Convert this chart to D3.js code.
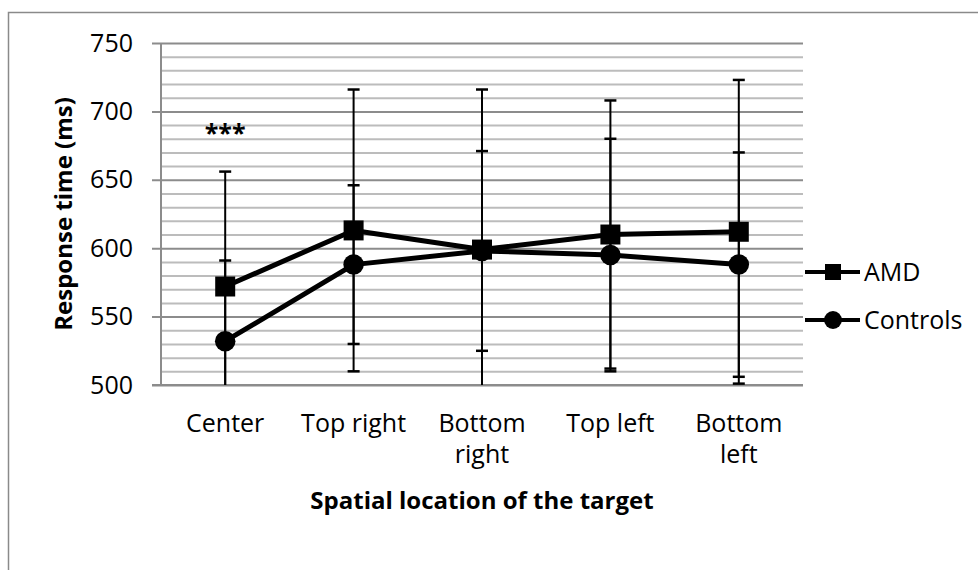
<!DOCTYPE html>
<html>
<head>
<meta charset="utf-8">
<script src="https://cdn.jsdelivr.net/npm/d3@7"></script>
<style>
  html, body { margin: 0; padding: 0; background: #fff; }
  svg { display: block; font-family: "Open Sans", "Noto Sans", sans-serif; }
</style>
</head>
<body>
<svg id="chart" width="978" height="570"></svg>
<script>
// Mean response times (ms) and error bar half-widths per target location
const categories = ["Center", "Top right", "Bottom right", "Top left", "Bottom left"];
const categoryLines = [["Center"], ["Top right"], ["Bottom", "right"], ["Top left"], ["Bottom", "left"]];
const amdMeans = [572, 613, 599, 610, 612];
const amdErrors = [84, 103, 117, 98, 111];
const controlsMeans = [532, 588, 598, 595, 588];
const controlsErrors = [59, 58, 73, 85, 82];
const majorTicks = [500, 550, 600, 650, 700, 750];
const minorTicks = [510, 520, 530, 540, 560, 570, 580, 590, 610, 620, 630, 640,
                    660, 670, 680, 690, 710, 720, 730, 740];
const seriesNames = ["AMD", "Controls"];

const svg = d3.select("#chart");

// outer chart frame
svg.append("rect")
  .attr("x", 8.5).attr("y", 12.5)
  .attr("width", 1100).attr("height", 700)
  .attr("fill", "none").attr("stroke", "#8a8a8a").attr("stroke-width", 1.5);

const plot = { left: 161, right: 803, top: 43, bottom: 385 };
const plotW = plot.right - plot.left;

const x = d3.scaleBand().domain(categories).range([plot.left, plot.right]).padding(0);
const cx = c => x(c) + x.bandwidth() / 2;
const y = d3.scaleLinear().domain([500, 750]).range([plot.bottom, plot.top]);

// minor gridlines
const minorAxis = svg.append("g")
  .attr("transform", `translate(${plot.left},0)`)
  .call(d3.axisLeft(y).tickValues(minorTicks).tickSize(-plotW).tickFormat(""));
minorAxis.select(".domain").remove();
minorAxis.selectAll(".tick line").attr("stroke", "#bcbcbc").attr("stroke-width", 2);

// major gridlines with outer tick marks
const majorAxis = svg.append("g")
  .attr("transform", `translate(${plot.right},0)`)
  .call(d3.axisRight(y).tickValues(majorTicks).tickSize(-(plot.right - plot.left + 9)).tickFormat(""));
majorAxis.select(".domain").remove();
majorAxis.selectAll(".tick line").attr("stroke", "#8c8c8c").attr("stroke-width", 2);

// y axis labels
const yAxis = svg.append("g")
  .attr("transform", `translate(${plot.left},0)`)
  .call(d3.axisLeft(y).tickValues(majorTicks).tickSize(9).tickPadding(19).tickFormat(d3.format("d")));
yAxis.select(".domain").remove();
yAxis.selectAll(".tick line").remove();
yAxis.selectAll(".tick text")
  .attr("font-size", 25).attr("fill", "#000")
  .attr("font-family", "'Open Sans', sans-serif");

// axis lines
svg.append("line")
  .attr("x1", plot.left).attr("x2", plot.left)
  .attr("y1", plot.top).attr("y2", plot.bottom)
  .attr("stroke", "#8c8c8c").attr("stroke-width", 2);
svg.append("line")
  .attr("x1", plot.left - 9).attr("x2", plot.right)
  .attr("y1", plot.bottom).attr("y2", plot.bottom)
  .attr("stroke", "#8c8c8c").attr("stroke-width", 2);

// x category labels
const xl = svg.append("g");
categories.forEach((c, i) => {
  const t = xl.append("text")
    .attr("x", cx(c)).attr("y", 432)
    .attr("text-anchor", "middle")
    .attr("font-size", 25).attr("fill", "#000");
  categoryLines[i].forEach((ln, j) => {
    t.append("tspan").attr("x", cx(c)).attr("dy", j === 0 ? 0 : 31).text(ln);
  });
});

// axis titles
svg.append("text")
  .attr("x", (plot.left + plot.right) / 2).attr("y", 509)
  .attr("text-anchor", "middle")
  .attr("font-size", 24).attr("font-weight", "bold").attr("fill", "#000")
  .text("Spatial location of the target");
svg.append("text")
  .attr("transform", `translate(72,${(plot.top + plot.bottom) / 2}) rotate(-90)`)
  .attr("text-anchor", "middle")
  .attr("font-size", 24).attr("font-weight", "bold").attr("fill", "#000")
  .text("Response time (ms)");

// clip marks to the plot area
svg.append("clipPath").attr("id", "plotClip")
  .append("rect")
  .attr("x", plot.left - 20).attr("y", plot.top - 20)
  .attr("width", plotW + 40).attr("height", plot.bottom - plot.top + 20);

const marks = svg.append("g").attr("clip-path", "url(#plotClip)");

// error bars for both groups
function errorBars(means, errs) {
  const g = marks.append("g").attr("stroke", "#000").attr("stroke-width", 2);
  categories.forEach((c, i) => {
    const hi = means[i] + errs[i], lo = means[i] - errs[i];
    const top = y(Math.min(hi, 750)), bot = y(Math.max(lo, 500));
    g.append("line").attr("x1", cx(c)).attr("x2", cx(c)).attr("y1", top).attr("y2", bot);
    if (hi <= 750) g.append("line").attr("x1", cx(c) - 6).attr("x2", cx(c) + 6).attr("y1", y(hi)).attr("y2", y(hi)).attr("stroke-width", 2.5);
    if (lo >= 500) g.append("line").attr("x1", cx(c) - 6).attr("x2", cx(c) + 6).attr("y1", y(lo)).attr("y2", y(lo)).attr("stroke-width", 2.5);
  });
}
errorBars(amdMeans, amdErrors);
errorBars(controlsMeans, controlsErrors);

const line = d3.line().x((d, i) => cx(categories[i])).y(d => y(d));

function series(means, shape) {
  marks.append("path").datum(means)
    .attr("d", line).attr("fill", "none")
    .attr("stroke", "#000").attr("stroke-width", 5).attr("stroke-linejoin", "round");
  const sym = d3.symbol().type(shape === "square" ? d3.symbolSquare : d3.symbolCircle)
    .size(shape === "square" ? 400 : 330);
  marks.selectAll(null).data(means).enter().append("path")
    .attr("d", sym)
    .attr("transform", (d, i) => `translate(${cx(categories[i])},${y(d)})`)
    .attr("fill", "#000");
}
series(controlsMeans, "circle");
series(amdMeans, "square");

// significance marker
svg.append("text")
  .attr("x", cx("Center")).attr("y", 142)
  .attr("text-anchor", "middle")
  .attr("font-size", 25).attr("font-weight", "bold").attr("fill", "#000")
  .text("***");

// legend
const legend = svg.append("g");
[["AMD", "square", 272], ["Controls", "circle", 320]].forEach(([name, shape, ly]) => {
  legend.append("line")
    .attr("x1", 805).attr("x2", 860).attr("y1", ly).attr("y2", ly)
    .attr("stroke", "#000").attr("stroke-width", 4);
  legend.append("path")
    .attr("d", d3.symbol().type(shape === "square" ? d3.symbolSquare : d3.symbolCircle)
      .size(shape === "square" ? 256 : 250))
    .attr("transform", `translate(833,${ly})`).attr("fill", "#000");
  legend.append("text")
    .attr("x", 864).attr("y", ly + 9)
    .attr("font-size", 25).attr("fill", "#000")
    .text(name);
});
</script>
</body>
</html>
